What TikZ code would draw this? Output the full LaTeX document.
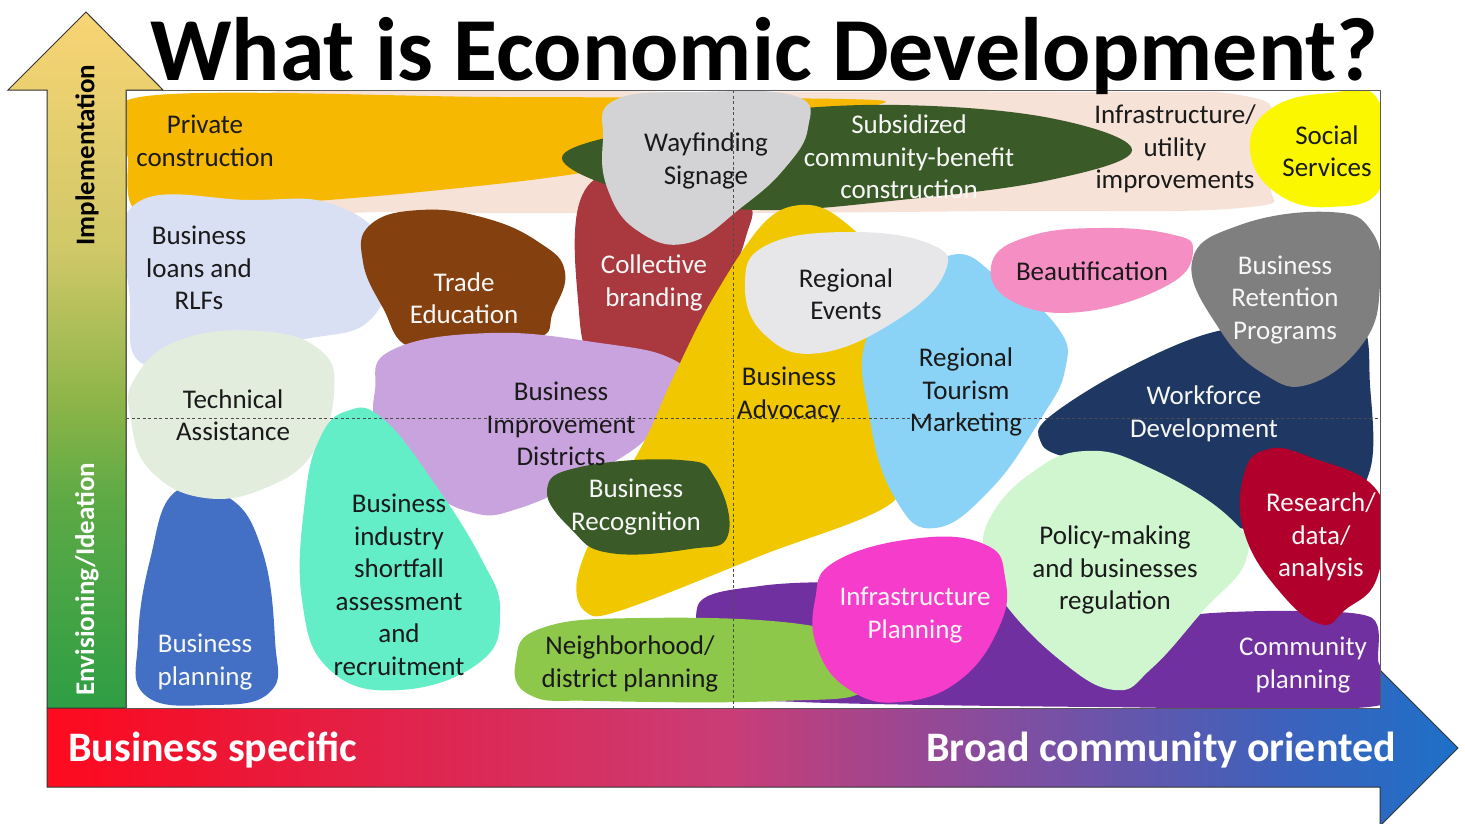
\documentclass[tikz,border=0pt]{standalone}
\usepackage{fontspec}
\setmainfont{Carlito}
\definecolor{cPeach}{HTML}{F6E2D6}
\definecolor{cOrange}{HTML}{F6B800}
\definecolor{cDkGreen}{HTML}{3A5A27}
\definecolor{cWay}{HTML}{D3D3D5}
\definecolor{cSocial}{HTML}{FBF700}
\definecolor{cLoans}{HTML}{DAE0F3}
\definecolor{cBrown}{HTML}{84400E}
\definecolor{cBrand}{HTML}{A9393E}
\definecolor{cAdv}{HTML}{F1C700}
\definecolor{cEvents}{HTML}{E7E7E9}
\definecolor{cTour}{HTML}{8AD3F6}
\definecolor{cPink}{HTML}{F58EC3}
\definecolor{cRet}{HTML}{7F7F7F}
\definecolor{cNavy}{HTML}{1F3763}
\definecolor{cResearch}{HTML}{B0002B}
\definecolor{cTA}{HTML}{E3EDDD}
\definecolor{cBID}{HTML}{C9A3DD}
\definecolor{cAqua}{HTML}{63EEC8}
\definecolor{cBPlan}{HTML}{4370C4}
\definecolor{cNeigh}{HTML}{8DC84A}
\definecolor{cCommunity}{HTML}{7030A0}
\definecolor{cMagenta}{HTML}{F63CCB}
\definecolor{cPolicy}{HTML}{D0F6D0}
\definecolor{cDark}{HTML}{1A1A1A}
\definecolor{cLight}{HTML}{F7F7F7}
\definecolor{vA}{HTML}{2E9E44}
\definecolor{vB}{HTML}{5DAA45}
\definecolor{vC}{HTML}{8DB548}
\definecolor{vD}{HTML}{D0C868}
\definecolor{vE}{HTML}{F8D474}
\definecolor{hA}{HTML}{FF0A1E}
\definecolor{hB}{HTML}{F0132F}
\definecolor{hC}{HTML}{CA3C76}
\definecolor{hD}{HTML}{834DA0}
\definecolor{hE}{HTML}{3C62BC}
\definecolor{hF}{HTML}{1E70C8}
\pgfdeclareverticalshading{vgrad}{100bp}{color(0bp)=(vA); color(25bp)=(vA); color(40bp)=(vB); color(47bp)=(vC); color(58bp)=(vD); color(75bp)=(vE); color(100bp)=(vE)}
\pgfdeclarehorizontalshading{hgrad}{100bp}{color(0bp)=(hA); color(25bp)=(hA); color(30bp)=(hB); color(49bp)=(hC); color(59bp)=(hD); color(69bp)=(hE); color(75bp)=(hF); color(100bp)=(hF)}
\tikzset{
  lbl/.style={font=\fontsize{27}{32.5}\selectfont, align=center, text=cDark, inner sep=0pt},
  lblw/.style={lbl, text=cLight},
  blob/.style={smooth cycle, tension=0.75},
  axislbl/.style={font=\fontsize{42}{48}\selectfont\bfseries, text=white, inner sep=0pt},
  vlbl/.style={font=\fontsize{27}{32}\selectfont\bfseries, rotate=90, inner sep=0pt},
  quad/.style={dash pattern=on 3pt off 2.5pt, draw=black!70, line width=0.8pt},
  arrowline/.style={draw=black!80, line width=1pt, line join=miter}
}
\begin{document}
\begin{tikzpicture}[x=1pt,y=-1pt]
\useasboundingbox (0,0) rectangle (1465,823);
\fill[white] (0,0) rectangle (1465,823);

% vertical arrow
\shade[shading=vgrad]
  (47,708) -- (47,90) -- (8,90) -- (86,12) -- (163,90) -- (126,90) -- (126,708) -- cycle;
\draw[arrowline] (47,708) -- (47,90) -- (8,90) -- (86,12) -- (163,90) -- (126,90) -- (126,708);
% horizontal arrow
\shade[shading=hgrad]
  (47,708) -- (1380,708) -- (1380,670) -- (1458,748) -- (1380,826) -- (1380,787) -- (47,787) -- cycle;
\draw[arrowline] (47,708) -- (1380,708) -- (1380,670) -- (1458,748) -- (1380,826) -- (1380,787) -- (47,787) -- cycle;

% plot area
\fill[white] (126,90) rectangle (1380,708);
\begin{scope}
\clip (126,90) rectangle (1380,708);
% infrastructure/utility band
\fill[cPeach] plot[blob] coordinates {(260,95) (700,92) (1100,92) (1245,96) (1274,125) (1272,185) (1240,208) (1000,211) (700,213) (400,212) (265,205)};
% private construction
\fill[cOrange] plot[smooth cycle, tension=0.55] coordinates {(140,97) (500,97) (845,99) (878,105) (800,120) (610,168) (420,192) (220,208) (138,212) (128,160)};
% collective branding
\fill[cBrand] plot[blob] coordinates {(585,190) (650,183) (740,198) (745,240) (705,325) (672,370) (600,366) (578,300)};
% subsidized
\fill[cDkGreen] plot[smooth cycle, tension=0.65] coordinates {(562,158) (640,130) (760,112) (900,105) (1050,118) (1132,150) (1050,180) (900,200) (760,210) (640,195)};
% wayfinding
\fill[cWay] plot[blob] coordinates {(615,100) (700,92) (795,96) (808,128) (785,168) (742,207) (688,243) (638,231) (608,190) (603,140)};
% social services
\fill[cSocial] plot[blob] coordinates {(1250,148) (1272,108) (1330,93) (1378,100) (1382,185) (1330,207) (1275,192)};
% loans
\fill[cLoans] plot[blob] coordinates {(134,205) (250,200) (335,205) (385,250) (372,318) (300,340) (200,355) (140,362) (130,300)};
% trade education
\fill[cBrown] plot[blob] coordinates {(370,225) (420,210) (485,218) (540,243) (565,272) (553,312) (538,338) (470,342) (410,347) (383,308) (363,262)};
% business planning
\fill[cBPlan] plot[blob] coordinates {(175,492) (228,497) (262,550) (275,640) (270,692) (210,705) (145,695) (138,640) (150,560)};
% technical assistance
\fill[cTA] plot[blob] coordinates {(135,378) (180,340) (260,331) (320,350) (334,392) (315,450) (270,486) (205,498) (150,470) (131,420)};
% business improvement districts
\fill[cBID] plot[blob] coordinates {(375,390) (392,350) (490,333) (600,343) (670,358) (682,382) (655,430) (600,470) (520,508) (470,512) (420,482) (380,432)};
% shortfall
\fill[cAqua] plot[blob] coordinates {(320,438) (347,411) (382,418) (432,480) (482,560) (500,612) (480,662) (400,690) (330,670) (302,600) (305,500)};
% business advocacy
\fill[cAdv] plot[smooth cycle, tension=0.6] coordinates {(800,205) (838,217) (878,265) (872,350) (882,440) (895,500) (760,556) (622,610) (586,612) (577,580) (600,520) (645,440) (672,380) (712,300) (762,225)};
% tourism
\fill[cTour] plot[blob] coordinates {(870,330) (945,257) (1002,280) (1058,328) (1065,370) (1040,420) (990,490) (935,528) (896,500) (870,420)};
% events
\fill[cEvents] plot[blob] coordinates {(745,285) (767,245) (850,232) (930,244) (945,272) (900,318) (820,353) (765,335)};
% beautification
\fill[cPink] plot[blob] coordinates {(992,262) (1030,236) (1100,228) (1170,234) (1193,250) (1168,285) (1080,312) (1010,300)};
% workforce
\fill[cNavy] plot[smooth cycle, tension=0.6] coordinates {(1040,440) (1048,418) (1120,372) (1210,333) (1300,322) (1360,322) (1370,385) (1370,470) (1330,520) (1240,528) (1150,472) (1062,456)};
% retention
\fill[cRet] plot[blob] coordinates {(1192,262) (1240,225) (1330,212) (1372,232) (1380,285) (1364,342) (1310,384) (1264,374) (1220,330)};
% recognition
\fill[cDkGreen] plot[blob] coordinates {(547,490) (580,467) (680,460) (715,478) (728,535) (690,549) (610,553) (572,530)};
% community planning
\fill[cCommunity] plot[smooth cycle, tension=0.5] coordinates {(698,605) (760,586) (850,583) (1000,598) (1100,630) (1200,614) (1300,611) (1372,618) (1378,660) (1376,706) (1100,707) (800,702) (715,690)};
% neighborhood
\fill[cNeigh] plot[blob] coordinates {(516,660) (542,628) (640,618) (800,624) (860,648) (866,690) (780,701) (600,701) (530,695)};
% policy-making
\fill[cPolicy] plot[blob] coordinates {(990,518) (1030,474) (1085,451) (1150,468) (1230,518) (1246,560) (1202,612) (1152,668) (1115,690) (1060,660) (1002,600) (985,558)};
% infrastructure planning
\fill[cMagenta] plot[blob] coordinates {(815,600) (836,561) (920,538) (986,545) (1005,577) (1000,625) (960,680) (900,702) (850,690) (818,650)};
% research
\fill[cResearch] plot[blob] coordinates {(1243,478) (1265,450) (1310,457) (1380,495) (1378,575) (1345,610) (1320,624) (1280,592) (1245,535)};
\end{scope}

% quadrant lines and frame
\coordinate (vtop) at (733,90);
\coordinate (vbot) at (733,708);
\coordinate (hleft) at (126,418);
\coordinate (hright) at (1380,418);
\draw[quad] (vtop) -- (vbot);
\draw[quad] (hleft) -- (hright);
\draw[draw=black!65, line width=0.9pt] (126,90) rectangle (1380,708);

% title
\node[anchor=base west, inner sep=0pt, font=\fontsize{90}{96}\selectfont\bfseries] (title) at (150,80) {What is Economic Development?};

% axis labels
\node[vlbl, text=black] (impl) at (87,155) {Implementation};
\node[vlbl, text=white] (envi) at (87,579) {Envisioning/Ideation};
\node[axislbl, anchor=west] (bspec) at (68,750) {Business specific};
\node[axislbl, anchor=east] (broad) at (1396,750) {Broad community oriented};

% labels
\node[lbl] (tPriv) at (205,141) {Private\\construction};
\node[lbl] (tWay) at (706,161) {Wayfinding\\Signage};
\node[lblw] (tSub) at (909,157) {Subsidized\\community-benefit\\construction};
\node[lbl] (tInfra) at (1175,149) {Infrastructure/\\utility\\improvements};
\node[lbl] (tSoc) at (1327,151) {Social\\Services};
\node[lbl] (tLoans) at (199,268) {Business\\loans and\\RLFs};
\node[lblw] (tTrade) at (464,298) {Trade\\Education};
\node[lblw] (tBrand) at (654,283) {Collective\\branding};
\node[lbl] (tEvents) at (846,294) {Regional\\Events};
\node[lbl] (tBeau) at (1092,271) {Beautification};
\node[lblw] (tRet) at (1285,300) {Business\\Retention\\Programs};
\node[lbl] (tTA) at (233,415) {Technical\\Assistance};
\node[lbl] (tBID) at (561,424) {Business\\Improvement\\Districts};
\node[lbl] (tAdv) at (789,395) {Business\\Advocacy};
\node[lbl] (tTour) at (966,392) {Regional\\Tourism\\Marketing};
\node[lblw] (tWork) at (1204,414) {Workforce\\Development};
\node[lblw] (tRec) at (636,507) {Business\\Recognition};
\node[lbl] (tShort) at (399,585) {Business\\industry\\shortfall\\assessment\\and\\recruitment};
\node[lbl] (tPol) at (1115,570) {Policy-making\\and businesses\\regulation};
\node[lblw] (tRes) at (1321,537) {Research/\\data/\\analysis};
\node[lblw] (tIP) at (915,615) {Infrastructure\\Planning};
\node[lblw] (tBP) at (205,662) {Business\\planning};
\node[lbl] (tNeigh) at (630,664) {Neighborhood/\\district planning};
\node[lblw] (tComm) at (1303,665) {Community\\planning};
\end{tikzpicture}
\end{document}
